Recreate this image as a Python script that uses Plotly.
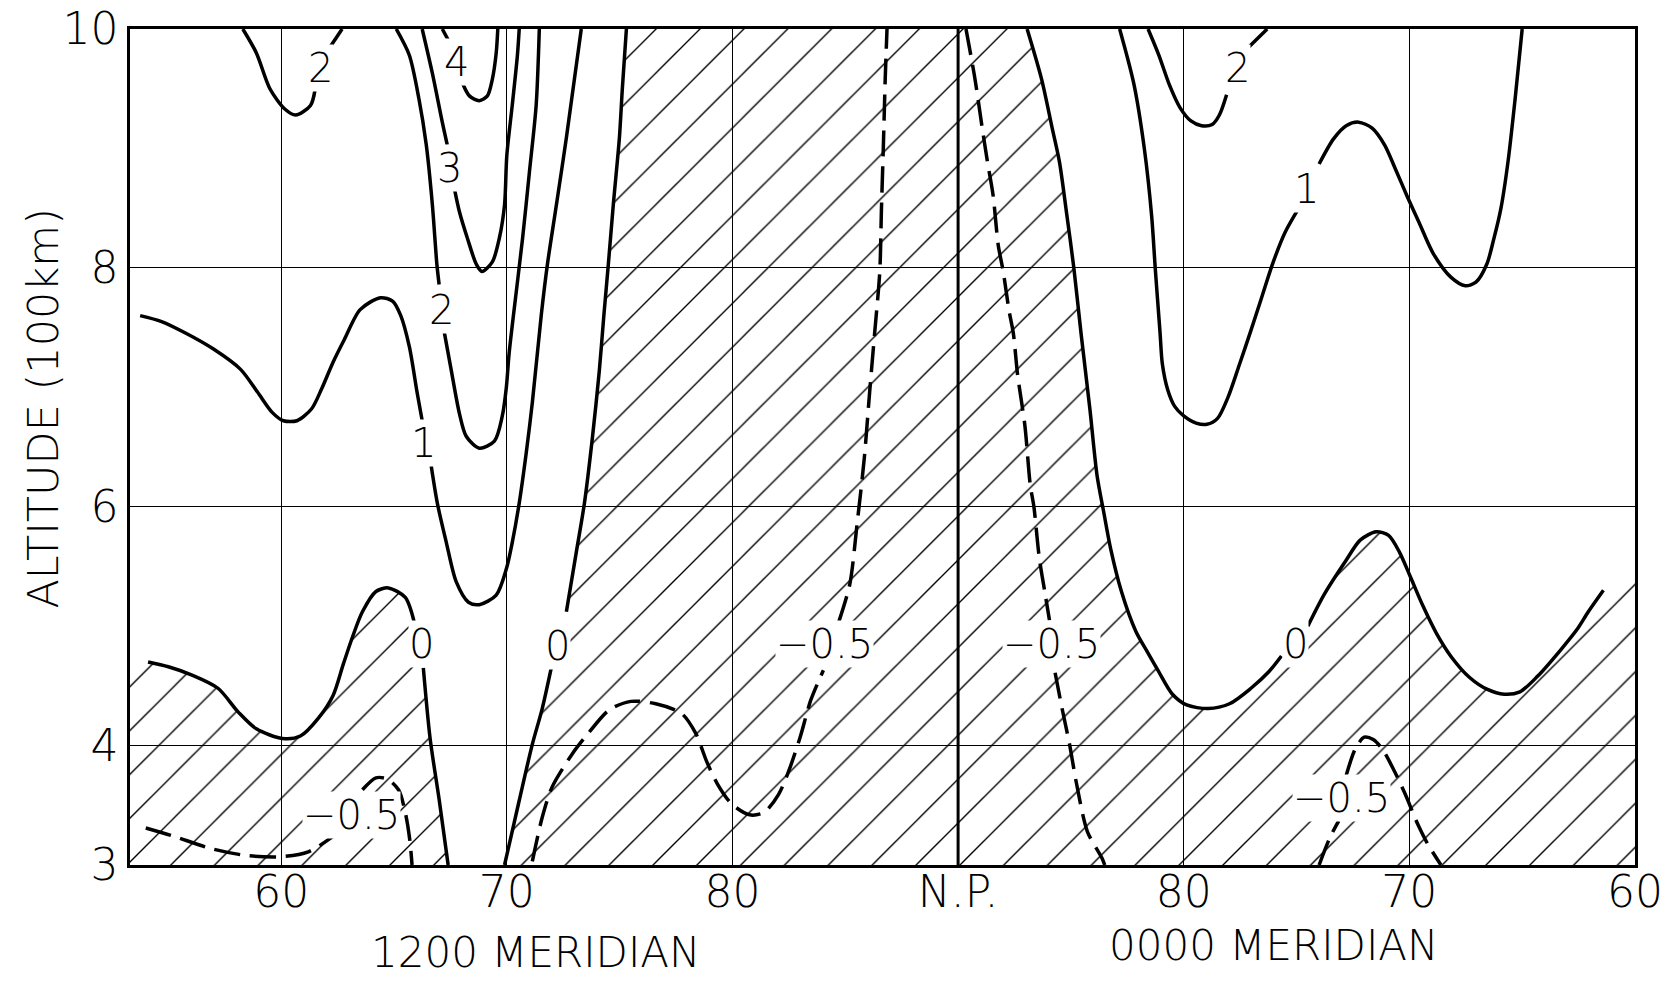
import plotly.graph_objects as go

# ---------------- axis ticks ----------------
x_tick_vals = [60, 70, 80, 90, 100, 110, 120]
x_tick_text = ["60", "70", "80", "N.P.", "80", "70", "60"]
y_tick_vals = [3, 4, 6, 8, 10]
y_tick_text = ["3", "4", "6", "8", "10"]
x_range = [53.3, 120]
y_range = [3, 10]

# ---------------- contour lines (x = distance along the meridian plane, y = altitude in 100 km) ----------------
# 1200 meridian side (x < 90)
c2_topleft_x = [58.3, 58.9, 59.5, 60.16, 60.64, 61.3, 61.5, None, 62.1, 62.7]
c2_topleft_y = [10, 9.8, 9.5, 9.33, 9.28, 9.36, 9.49, None, 9.83, 10]

c4_x = [67.14, 67.54, None, 68.03, 68.34, 68.78, 69.14, 69.36, 69.53, 69.6]
c4_y = [10, 9.86, None, 9.55, 9.44, 9.40, 9.44, 9.58, 9.8, 10]

c3_x = [66.25, 66.7, 67.14, 67.36, None, 67.67, 67.9, 68.25, 68.65, 68.9, 69.36, 69.67, 69.9, 70.0, 70.24, 70.47, 70.55]
c3_y = [10, 9.63, 9.22, 9.03, None, 8.67, 8.47, 8.25, 8.03, 7.97, 8.05, 8.25, 8.53, 8.94, 9.36, 9.78, 10]

c2_left_x = [65.1, 65.68, 66.1, 66.43, 66.7, 66.9, 67.0, None, 67.23, 67.54, 67.9, 68.2, 68.78, 69.45, 69.8,
             69.98, 70.1, 70.28, 70.7, 71.0, 71.3, 71.44]
c2_left_y = [10, 9.78, 9.42, 9.03, 8.53, 8.03, 7.86, None, 7.46, 7.14, 6.78, 6.59, 6.49, 6.55, 6.76,
             7.0, 7.28, 7.58, 8.25, 8.8, 9.36, 10]

c1_left_x = [53.75, 54.7, 55.8, 57.0, 58.2, 58.95, 59.6, 60.1, 60.7, 61.35, 61.8, 62.3, 62.8, 63.5, 64.4,
             64.95, 65.3, 65.68, 66.03, 66.25, None, 66.65, 66.92, 67.32, 67.76, 68.3, 68.78, 69.53,
             69.98, 70.24, 70.55, 70.86, 71.13, 71.53, 71.8, 72.2, 72.64, 73.3]
c1_left_y = [7.6, 7.55, 7.45, 7.32, 7.15, 6.96, 6.79, 6.72, 6.72, 6.82, 6.99, 7.21, 7.4, 7.65, 7.75,
             7.72, 7.6, 7.34, 6.95, 6.72, None, 6.34, 6.03, 5.70, 5.37, 5.2, 5.18, 5.26,
             5.48, 5.70, 6.03, 6.45, 6.87, 7.61, 8.03, 8.53, 9.09, 10]

c0_lowleft_x = [54.1, 55.0, 56.05, 57.2, 58.1, 58.9, 60.05, 60.85, 61.65, 62.3, 62.75, 63.2, 63.6, 64.2,
                64.75, 65.5, 65.9, None, 66.3, 66.6, 67.0, 67.4]
c0_lowleft_y = [4.70, 4.66, 4.59, 4.48, 4.28, 4.14, 4.06, 4.08, 4.23, 4.42, 4.68, 4.93, 5.12, 5.29,
                5.32, 5.24, 5.03, None, 4.65, 4.06, 3.55, 3.0]

cm05_lowleft_x = [54.0, 55.25, 56.85, 58.45, 60.05, 61.2, 62.3, None, 63.6, 64.2, 64.7, 65.2, 65.5, 65.7, 65.8]
cm05_lowleft_y = [3.31, 3.24, 3.14, 3.08, 3.07, 3.11, 3.24, None, 3.63, 3.73, 3.72, 3.63, 3.44, 3.21, 3.0]

c0_midleft_x = [69.9, 70.55, 71.13, 71.57, 71.97, None, 72.64, 73.08, 73.44, 73.8, 74.1, 74.3, 74.5,
                74.72, 74.99, 75.12, 75.3]
c0_midleft_y = [3.0, 3.54, 4.01, 4.31, 4.65, None, 5.12, 5.62, 6.03, 6.59, 7.14, 7.6, 8.03,
                8.53, 9.09, 9.5, 10]

cm05_mid_x = [71.13, 71.57, 72.0, 72.9, 73.6, 74.55, 75.5, 76.6, 77.74, 78.38, 78.85, 79.33, 79.97, 80.76,
              81.4, 82.04, 82.5, 83.0, 83.47, 84.03, None, 84.72, 85.2, 85.52, 85.84, 86.08, 86.3, 86.53,
              86.6, 86.69, 86.77, 86.85]
cm05_mid_y = [3.03, 3.4, 3.65, 3.93, 4.1, 4.3, 4.37, 4.35, 4.27, 4.1, 3.87, 3.68, 3.51, 3.42,
              3.44, 3.59, 3.79, 4.07, 4.38, 4.63, None, 5.04, 5.35, 5.85, 6.4, 6.96, 7.45, 7.97,
              8.47, 9.03, 9.58, 10]

# 0000 meridian side (x > 90, x = 180 - latitude)
cm05_np_x = [90.35, 90.75, 91.07, 91.3, 91.55, 91.78, 92.0, 92.26, 92.45, 92.64, 92.96, 93.2, 93.36, 93.6,
             93.84, 94.05, None, 94.3, 94.62, 94.94, 95.25, 95.73, 96.37, 96.5]
cm05_np_y = [10, 9.58, 9.17, 8.89, 8.61, 8.19, 7.97, 7.64, 7.45, 7.1, 6.68, 6.18, 6.0, 5.57,
             5.29, 5.05, None, 4.61, 4.3, 4.01, 3.68, 3.28, 3.06, 3.0]

c0_right_x = [93.06, 93.7, 94.17, 94.49, 94.8, 95.13, 95.45, 95.84, 96.16, 96.45, 96.76, 97.24, 97.87, 98.4,
              98.86, 99.5, 100.13, 101.08, 102.03, 102.98, 103.78, 104.33, None, 105.5, 106.24, 107.19,
              107.82, 108.53, 109.08, 109.56, 110.03, 110.6, 111.2, 111.87, 112.67, 113.46, 114.2,
              114.9, 115.68, 116.7, 117.46, 117.93, 118.6]
c0_right_y = [10, 9.58, 9.17, 8.89, 8.47, 8.0, 7.45, 6.82, 6.26, 5.96, 5.65, 5.29, 4.96, 4.78,
              4.63, 4.43, 4.34, 4.31, 4.35, 4.48, 4.62, 4.75, None, 5.0, 5.27, 5.55,
              5.72, 5.79, 5.76, 5.62, 5.42, 5.17, 4.94, 4.74, 4.57, 4.47, 4.43,
              4.45, 4.58, 4.8, 4.98, 5.12, 5.3]

cm05_right_x = [106.0, 106.48, 106.87, None, 107.2, 107.6, 108.0, 108.4, 108.8, 109.3, 109.8, 110.13,
                110.4, 110.8, 111.4]
cm05_right_y = [3.0, 3.23, 3.37, None, 3.75, 3.97, 4.07, 4.05, 3.97, 3.8, 3.6, 3.45,
                3.33, 3.18, 3.0]

c2_topright_x = [98.42, 98.9, 99.37, 99.84, 100.32, 100.79, 101.26, 101.58, 101.9, None, 102.84, 103.7]
c2_topright_y = [10, 9.78, 9.53, 9.34, 9.23, 9.19, 9.2, 9.28, 9.45, None, 9.84, 10]

c1_right_x = [97.16, 97.79, 98.26, 98.58, 98.74, 98.95, 99.05, 99.29, 99.6, 100.0, 100.55, 101.03, 101.5,
              101.97, 102.45, 102.95, 103.45, 103.95, 104.5, 105.1, None, 106.0, 106.64, 107.2,
              107.75, 108.35, 108.9, 109.4, 109.9, 110.43, 111.06, 111.85, 112.48, 112.95, 113.43,
              113.74, 114.06, 114.38, 114.69, 115.0]
c1_right_y = [10, 9.54, 8.99, 8.43, 7.99, 7.46, 7.2, 6.98, 6.84, 6.76, 6.7, 6.69, 6.74,
              6.92, 7.18, 7.46, 7.75, 8.04, 8.3, 8.5, None, 8.87, 9.08, 9.19,
              9.22, 9.17, 9.03, 8.82, 8.6, 8.38, 8.12, 7.92, 7.85, 7.88, 8.03,
              8.24, 8.5, 8.9, 9.42, 10]

# pole line
np_x = [90, 90]
np_y = [3, 10]

# contour labels
label_text = ["2", "4", "3", "2", "1", "0", "\u22120.5", "0", "\u22120.5", "\u22120.5", "0", "\u22120.5", "2", "1"]
label_x = [61.76, 67.76, 67.45, 67.1, 66.3, 66.2, 63.1, 72.24, 84.1, 94.15, 104.97, 107.0, 102.4, 105.45]
label_y = [9.67, 9.72, 8.84, 7.65, 6.53, 4.85, 3.42, 4.83, 4.85, 4.85, 4.85, 3.56, 9.67, 8.66]

# ---------------- figure ----------------
FONT = "DejaVu Sans"
fig = go.Figure()


def clean(seq):
    return [v for v in seq if v is not None]


hatch = dict(shape="/", size=31, solidity=0.045, fgcolor="black",
             bgcolor="rgba(0,0,0,0)", fillmode="replace")

# hatched (negative) region, lower left
fillA_x = [x_range[0]] + clean(c0_lowleft_x) + [x_range[0]]
fillA_y = [4.72] + clean(c0_lowleft_y) + [3.0]
# hatched (negative) region, centre and right
fillB_x = clean(c0_midleft_x) + clean(c0_right_x) + [x_range[1], x_range[1]]
fillB_y = clean(c0_midleft_y) + clean(c0_right_y) + [5.45, 3.0]

for fx, fy in [(fillA_x, fillA_y), (fillB_x, fillB_y)]:
    fig.add_trace(go.Scatter(x=fx, y=fy, mode="lines", fill="toself",
                             line=dict(width=0, color="rgba(0,0,0,0)"),
                             fillcolor="rgba(0,0,0,0)", fillpattern=hatch,
                             hoverinfo="skip", showlegend=False))

solid = [(c2_topleft_x, c2_topleft_y), (c4_x, c4_y), (c3_x, c3_y), (c2_left_x, c2_left_y),
         (c1_left_x, c1_left_y), (c0_lowleft_x, c0_lowleft_y), (c0_midleft_x, c0_midleft_y),
         (c0_right_x, c0_right_y), (c2_topright_x, c2_topright_y), (c1_right_x, c1_right_y)]
dashed = [(cm05_lowleft_x, cm05_lowleft_y), (cm05_mid_x, cm05_mid_y),
          (cm05_np_x, cm05_np_y), (cm05_right_x, cm05_right_y)]

for cx, cy in solid:
    fig.add_trace(go.Scatter(x=cx, y=cy, mode="lines", connectgaps=False,
                             line=dict(color="black", width=3.5, shape="spline", smoothing=0.8),
                             hoverinfo="skip", showlegend=False))
for cx, cy in dashed:
    fig.add_trace(go.Scatter(x=cx, y=cy, mode="lines", connectgaps=False,
                             line=dict(color="black", width=3.5, shape="spline", smoothing=0.8,
                                       dash="26px,10px"),
                             hoverinfo="skip", showlegend=False))

fig.add_trace(go.Scatter(x=np_x, y=np_y, mode="lines", line=dict(color="black", width=3),
                         hoverinfo="skip", showlegend=False))

for t, lx, ly in zip(label_text, label_x, label_y):
    fig.add_annotation(x=lx, y=ly, xref="x", yref="y", text=t, showarrow=False,
                       font=dict(family=FONT, size=40, color="black", weight=200),
                       bgcolor="white", borderpad=0)

fig.add_annotation(text="ALTITUDE (100km)", xref="paper", yref="paper", x=-0.0578, y=0.546,
                   textangle=-90, showarrow=False, xanchor="center", yanchor="middle",
                   font=dict(family=FONT, size=43, color="black", weight=200))
fig.add_annotation(text="1200 MERIDIAN", xref="x", yref="paper", x=71.26, y=-0.1045,
                   showarrow=False, xanchor="center", yanchor="middle",
                   font=dict(family=FONT, size=42, color="black", weight=200))
fig.add_annotation(text="0000 MERIDIAN", xref="x", yref="paper", x=104.0, y=-0.096,
                   showarrow=False, xanchor="center", yanchor="middle",
                   font=dict(family=FONT, size=42, color="black", weight=200))

axis_common = dict(showgrid=True, gridcolor="black", gridwidth=1, showline=True, linecolor="black",
                   linewidth=2.5, mirror=True, ticks="", zeroline=False, automargin=False,
                   ticklabeloverflow="allow",
                   tickfont=dict(family=FONT, size=44, color="black", weight=200))
fig.update_xaxes(range=x_range, tickvals=x_tick_vals, ticktext=x_tick_text, ticklabelstandoff=-14,
                 **axis_common)
fig.update_yaxes(range=y_range, tickvals=y_tick_vals, ticktext=y_tick_text, ticklabelstandoff=0,
                 **axis_common)

# the page adds an 8px body margin, so the figure is offset to land on the reference layout
fig.update_layout(width=1654, height=974, margin=dict(l=122, r=27, t=21, b=117, autoexpand=False),
                  paper_bgcolor="white", plot_bgcolor="white", showlegend=False,
                  font=dict(family=FONT, size=38, color="black", weight=200))

fig.write_html("out.html")
